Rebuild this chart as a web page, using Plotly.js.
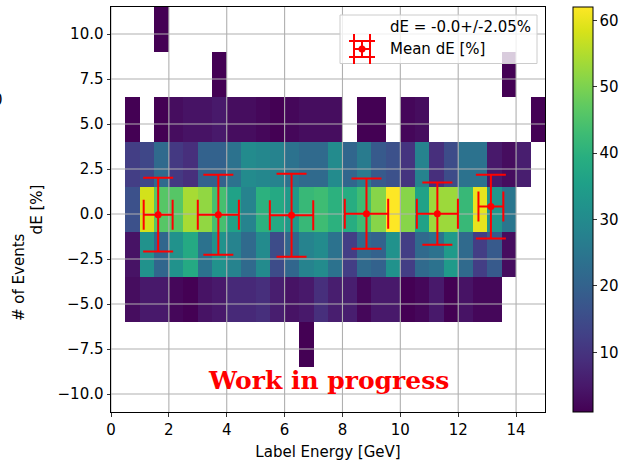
<!DOCTYPE html>
<html>
<head>
<meta charset="utf-8">
<script src="https://cdn.plot.ly/plotly-3.0.1.min.js"></script>
<style>
html, body { margin: 0; padding: 0; background: #fff; }
#chart { width: 633px; height: 461px; }
</style>
</head>
<body>
<div id="chart"></div>
<script>
// ---- data ----
const xEdges = [0, 0.5, 1, 1.5, 2, 2.5, 3, 3.5, 4, 4.5, 5, 5.5, 6, 6.5, 7, 7.5, 8, 8.5, 9, 9.5, 10, 10.5, 11, 11.5, 12, 12.5, 13, 13.5, 14, 14.5, 15];
const yEdges = [-11, -8.5, -6, -3.5, -1, 1.5, 4, 6.5, 9, 11.5];

// counts per dE bin (bottom to top), 30 energy bins each, 0 = empty
const rowM975 = [0,0,0,0,0,0,0,0,0,0, 0,0,0,0,0,0,0,0,0,0, 0,0,0,0,0,0,0,0,0,0];
const rowM725 = [0,0,0,0,0,0,0,0,0,0, 0,0,0,1,0,0,0,0,0,0, 0,0,0,0,0,0,0,0,0,0];
const rowM475 = [0,3,5,5,2,1,4,5,8,8, 9,6,4,5,9,6,6,2,5,5, 1,2,5,1,4,2,2,0,0,0];
const rowM225 = [0,4,32,21,32,38,24,32,28,22, 30,15,21,28,30,24,12,22,20,32, 12,22,24,34,22,12,18,3,0,0];
const rowP025 = [0,16,58,46,46,54,52,44,36,28, 40,38,34,42,43,40,39,43,51,62, 51,36,53,53,42,60,33,25,0,0];
const rowP275 = [0,12,14,22,11,9,20,20,24,30, 29,28,24,22,22,30,21,26,18,16, 10,28,9,15,24,24,5,3,6,0];
const rowP525 = [0,1,0,1,3,4,4,5,3,3, 2,1,2,3,3,3,0,1,1,0, 2,3,0,0,0,0,0,0,0,1];
const rowP775 = [0,0,0,0,0,0,0,1,0,0, 0,0,0,0,0,0,0,0,0,0, 0,0,0,0,0,0,0,1,0,0];
const rowP1025 = [0,0,0,1,0,0,0,0,0,0, 0,0,0,0,0,0,0,0,0,0, 0,0,0,0,0,0,0,0,0,0];

// mean dE per energy slice
const meanEnergy = [1.63, 3.71, 6.24, 8.83, 11.28, 13.13];
const energyErr = [0.5, 0.71, 0.75, 0.75, 0.71, 0.43];
const meanDE = [-0.04, -0.04, -0.07, 0.02, 0.02, 0.41];
const dEErr = [2.05, 2.22, 2.3, 1.95, 1.73, 1.77];

const xTicks = [0, 2, 4, 6, 8, 10, 12, 14];
const yTicks = [-10, -7.5, -5, -2.5, 0, 2.5, 5, 7.5, 10];
const cbTicks = [10, 20, 30, 40, 50, 60];
const legendLabels = ["dE = -0.0+/-2.05%", "Mean dE [%]"];

// ---- build ----
const rows = [rowM975, rowM725, rowM475, rowM225, rowP025, rowP275, rowP525, rowP775, rowP1025];
const z = rows.map(r => r.map(v => (v > 0 ? v : null)));

const xRange = [0, 15];
const yRange = [-11, 11.5];
const FONT = "DejaVu Sans";
const FS = 15;

// grid lines drawn as a trace so they sit above the histogram but under the red markers
const gx = [], gy = [];
xTicks.forEach(t => { gx.push(t, t, null); gy.push(yRange[0], yRange[1], null); });
yTicks.forEach(t => { gx.push(xRange[0], xRange[1], null); gy.push(t, t, null); });

const L = 111, R = 88, T = 7, B = 49, W = 633, H = 461;
const pw = W - L - R, ph = H - T - B;
const px = p => (p - L) / pw;
const py = p => 1 - (p - T) / ph;

const traces = [
  {
    type: "heatmap",
    x: xEdges,
    y: yEdges,
    z: z,
    colorscale: "Viridis",
    zmin: 1,
    zmax: 62,
    zsmooth: false,
    hoverinfo: "skip",
    colorbar: {
      x: 1 + (572.5 - 545) / pw,
      xanchor: "left",
      xpad: 0,
      y: 0.5,
      yanchor: "middle",
      ypad: 0,
      len: 1,
      lenmode: "fraction",
      thickness: 20,
      outlinecolor: "#000",
      outlinewidth: 1,
      ticks: "outside",
      ticklen: 3.5,
      tickwidth: 0.8,
      tickcolor: "#000",
      tickvals: cbTicks,
      tickfont: { family: FONT, size: FS, color: "#000" }
    }
  },
  {
    type: "scatter",
    mode: "lines",
    x: gx,
    y: gy,
    line: { color: "#b0b0b0", width: 1.1 },
    hoverinfo: "skip",
    showlegend: false
  },
  {
    type: "scatter",
    mode: "markers",
    x: meanEnergy,
    y: meanDE,
    marker: { color: "red", size: 7 },
    error_x: { type: "data", array: energyErr, color: "red", thickness: 2, width: 15 },
    error_y: { type: "data", array: dEErr, color: "red", thickness: 2, width: 15 },
    hoverinfo: "skip",
    showlegend: false
  }
];

const red = { color: "red", width: 2 };
const lc = 362, lyc = 49;
const shapes = [
  { type: "rect", xref: "paper", yref: "paper", x0: px(340), x1: px(537), y0: py(63.5), y1: py(15),
    fillcolor: "rgba(255,255,255,0.8)", line: { color: "#cccccc", width: 1 }, layer: "above" },
  // legend errorbar icon
  { type: "line", xref: "paper", yref: "paper", x0: px(lc - 8), x1: px(lc + 8), y0: py(lyc), y1: py(lyc), line: red, layer: "above" },
  { type: "line", xref: "paper", yref: "paper", x0: px(lc), x1: px(lc), y0: py(lyc - 8), y1: py(lyc + 8), line: red, layer: "above" },
  { type: "line", xref: "paper", yref: "paper", x0: px(lc - 8), x1: px(lc - 8), y0: py(lyc - 15), y1: py(lyc + 15), line: red, layer: "above" },
  { type: "line", xref: "paper", yref: "paper", x0: px(lc + 8), x1: px(lc + 8), y0: py(lyc - 15), y1: py(lyc + 15), line: red, layer: "above" },
  { type: "line", xref: "paper", yref: "paper", x0: px(lc - 13), x1: px(lc + 13), y0: py(lyc - 8), y1: py(lyc - 8), line: red, layer: "above" },
  { type: "line", xref: "paper", yref: "paper", x0: px(lc - 13), x1: px(lc + 13), y0: py(lyc + 8), y1: py(lyc + 8), line: red, layer: "above" },
  { type: "circle", xref: "paper", yref: "paper", x0: px(lc - 3.5), x1: px(lc + 3.5), y0: py(lyc + 3.5), y1: py(lyc - 3.5),
    fillcolor: "red", line: { color: "red", width: 0 }, layer: "above" }
];

const annotations = [
  { xref: "paper", yref: "paper", x: px(389), y: py(27), xanchor: "left", yanchor: "middle", showarrow: false,
    text: legendLabels[0], font: { family: FONT, size: FS, color: "#000" }, borderpad: 0 },
  { xref: "paper", yref: "paper", x: px(389), y: py(49), xanchor: "left", yanchor: "middle", showarrow: false,
    text: legendLabels[1], font: { family: FONT, size: FS, color: "#000" }, borderpad: 0 },
  { xref: "x", yref: "y", x: 7.5, y: -9.25, xanchor: "center", yanchor: "middle", showarrow: false,
    text: "<b>Work in progress</b>", font: { family: "DejaVu Serif", size: 25, color: "red" } },
  { xref: "paper", yref: "paper", x: px(19), y: py(277), xanchor: "center", yanchor: "middle", showarrow: false,
    textangle: -90, text: "# of Events", font: { family: FONT, size: FS, color: "#000" } },
  { xref: "paper", yref: "paper", x: px(3.5), y: py(100), xanchor: "right", yanchor: "middle", showarrow: false,
    text: "0", font: { family: FONT, size: FS, color: "#000" }, borderpad: 0 }
];

const axisCommon = {
  showline: true, mirror: true, linecolor: "#000", linewidth: 1,
  ticks: "outside", ticklen: 3.5, tickwidth: 0.8, tickcolor: "#000",
  showgrid: false, zeroline: false,
  tickfont: { family: FONT, size: FS, color: "#000" }
};

const layout = {
  width: W, height: H,
  margin: { l: L, r: R, t: T, b: B, pad: 0 },
  paper_bgcolor: "#fff",
  plot_bgcolor: "#fff",
  showlegend: false,
  xaxis: Object.assign({}, axisCommon, {
    range: xRange, tickvals: xTicks,
    title: { text: "Label Energy [GeV]", font: { family: FONT, size: FS, color: "#000" }, standoff: 11 }
  }),
  yaxis: Object.assign({}, axisCommon, {
    range: yRange, tickvals: yTicks, tickformat: ".1f",
    title: { text: "dE [%]", font: { family: FONT, size: FS, color: "#000" }, standoff: 11 }
  }),
  shapes: shapes,
  annotations: annotations
};

Plotly.newPlot("chart", traces, layout, { displayModeBar: false, staticPlot: true });
</script>
</body>
</html>
